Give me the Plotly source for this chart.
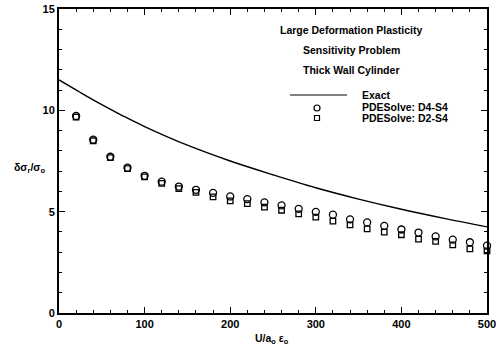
import plotly.graph_objects as go

# ---- data ----
x_exact = [0, 25, 50, 75, 100, 150, 200, 250, 300, 350, 400, 450, 500]
y_exact = [11.5, 10.88, 10.28, 9.72, 9.2, 8.28, 7.5, 6.82, 6.18, 5.62, 5.12, 4.67, 4.25]

x_pts = [20, 40, 60, 80, 100, 120, 140, 160, 180, 200, 220, 240, 260,
         280, 300, 320, 340, 360, 380, 400, 420, 440, 460, 480, 500]
y_d4s4 = [9.72, 8.55, 7.71, 7.17, 6.77, 6.48, 6.24, 6.08, 5.93, 5.75, 5.62, 5.46, 5.31,
          5.14, 4.99, 4.85, 4.62, 4.47, 4.30, 4.12, 3.97, 3.78, 3.62, 3.49, 3.32]
y_d2s4 = [9.66, 8.50, 7.67, 7.12, 6.72, 6.40, 6.14, 5.95, 5.73, 5.53, 5.40, 5.22, 5.07,
          4.89, 4.73, 4.53, 4.35, 4.15, 3.99, 3.86, 3.65, 3.53, 3.36, 3.16, 3.07]

title_lines = ["Large Deformation Plasticity", "Sensitivity Problem", "Thick Wall Cylinder"]
legend_names = ["Exact", "PDESolve: D4-S4", "PDESolve: D2-S4"]
x_ticks = [0, 100, 200, 300, 400, 500]
y_ticks = [0, 5, 10, 15]

FONT = "Liberation Sans, Arial, Helvetica, sans-serif"
W, H = 496, 353
L, R, T, B = 59, 9, 9, 40
pw, ph = W - L - R, H - T - B

def px2paper(px, py):
    return (px - L) / pw, (H - B - py) / ph

TXT = dict(family=FONT, size=10.5, color="black", weight="bold")

fig = go.Figure()
fig.add_trace(go.Scatter(x=x_exact, y=y_exact, mode="lines",
                         line=dict(color="black", width=1.4, shape="spline", smoothing=1.0),
                         showlegend=False, name=legend_names[0]))
fig.add_trace(go.Scatter(x=x_pts, y=y_d4s4, mode="markers",
                         marker=dict(symbol="circle-open", size=7, color="black",
                                     line=dict(width=1.3, color="black")),
                         cliponaxis=False, showlegend=False, name=legend_names[1]))
fig.add_trace(go.Scatter(x=x_pts, y=y_d2s4, mode="markers",
                         marker=dict(symbol="square-open", size=5.5, color="black",
                                     line=dict(width=1.3, color="black")),
                         cliponaxis=False, showlegend=False, name=legend_names[2]))

annotations = []
shapes = []
# title block
for t, py in zip(title_lines, [30, 50, 70]):
    ax, ay = px2paper(351, py)
    annotations.append(dict(x=ax, y=ay, xref="paper", yref="paper", text=t, showarrow=False,
                            xanchor="center", yanchor="middle", font=TXT))
# legend
for name, py in zip(legend_names, [95, 107, 118]):
    ax, ay = px2paper(360, py)
    annotations.append(dict(x=ax, y=ay, xref="paper", yref="paper", text=name, showarrow=False,
                            xanchor="left", yanchor="middle", font=TXT))
x0, y0 = px2paper(290, 95)
x1, _ = px2paper(347, 95)
shapes.append(dict(type="line", xref="paper", yref="paper", x0=x0, x1=x1, y0=y0, y1=y0,
                   line=dict(color="black", width=1.2)))
cx, cy = px2paper(317, 108)
shapes.append(dict(type="circle", xref="paper", yref="paper", xsizemode="pixel", ysizemode="pixel",
                   xanchor=cx, yanchor=cy, x0=-3, x1=3, y0=-3, y1=3,
                   line=dict(color="black", width=1.2)))
sx, sy = px2paper(317, 118)
shapes.append(dict(type="rect", xref="paper", yref="paper", xsizemode="pixel", ysizemode="pixel",
                   xanchor=sx, yanchor=sy, x0=-2.5, x1=2.5, y0=-2.5, y1=2.5,
                   line=dict(color="black", width=1.2)))
# axis titles
ax, ay = px2paper(30, 168)
annotations.append(dict(x=ax, y=ay, xref="paper", yref="paper",
                        text="δσ<sub>r</sub>/σ<sub>o</sub>", showarrow=False,
                        xanchor="center", yanchor="middle", font=TXT))
ax, ay = px2paper(272, 339)
annotations.append(dict(x=ax, y=ay, xref="paper", yref="paper",
                        text="U/a<sub>o</sub> ε<sub>o</sub>", showarrow=False,
                        xanchor="center", yanchor="middle", font=TXT))

axis_common = dict(showgrid=False, zeroline=False, showline=True, linecolor="black", linewidth=2,
                   mirror="allticks", ticks="inside", ticklen=6, tickwidth=1.3, tickcolor="black",
                   automargin=False, ticklabeloverflow="allow",
                   tickfont=dict(family=FONT, size=11, color="black", weight="bold"))
fig.update_layout(
    width=W, height=H, margin=dict(l=L, r=R, t=T, b=B, autoexpand=False),
    paper_bgcolor="white", plot_bgcolor="white",
    xaxis=dict(range=[0, 500], tickvals=x_ticks, ticktext=[str(v) for v in x_ticks],
               minor=dict(dtick=20, ticks="inside", ticklen=3, tickwidth=1.2, tickcolor="black"),
               **axis_common),
    yaxis=dict(range=[0, 15], tickvals=y_ticks, ticktext=[str(v) for v in y_ticks],
               minor=dict(dtick=1, ticks="inside", ticklen=3, tickwidth=1.2, tickcolor="black"),
               **axis_common),
    annotations=annotations, shapes=shapes, showlegend=False,
)
fig.write_html("out.html")
